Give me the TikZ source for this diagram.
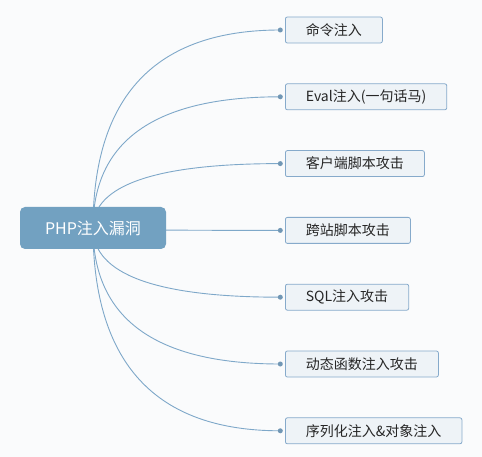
\documentclass[tikz,border=0pt]{standalone}
\usepackage{fontspec}
\setmainfont{Noto Sans CJK SC}
\usetikzlibrary{positioning,calc,backgrounds}

\definecolor{bgcol}{HTML}{FAFBFC}
\definecolor{rootcol}{HTML}{72A1C1}
\definecolor{linecol}{HTML}{7EA8C9}
\definecolor{boxcol}{HTML}{EEF3F7}
\definecolor{boxline}{HTML}{86AACB}

\begin{document}
\begin{tikzpicture}[x=1pt,y=-1pt,
            root/.style={fill=rootcol,rounded corners=5pt,text=white,minimum width=146pt,minimum height=42pt,font=\fontsize{16}{18}\selectfont},
            topic/.style={draw=boxline,fill=boxcol,rounded corners=2pt,line width=.8pt,minimum height=26pt,inner xsep=20.5pt,inner ysep=0pt,font=\fontsize{14}{16}\selectfont,text=black!85},
            dot/.style={circle,fill=linecol!90!black,inner sep=0pt,minimum size=5pt},
            link/.style={draw=linecol,line width=.9pt}
          ]
          \useasboundingbox (0,0) rectangle (482,457);

          %root
          \node[root] (root) at (93,228) {PHP注入漏洞};

          %topics
          \node[topic,anchor=west] (t1) at (285,30) {命令注入};
          \node[topic,below=40pt of t1.south west,anchor=north west] (t2) {Eval注入(一句话马)};
          \node[topic,below=40pt of t2.south west,anchor=north west] (t3) {客户端脚本攻击};
          \node[topic,below=40pt of t3.south west,anchor=north west] (t4) {跨站脚本攻击};
          \node[topic,below=40pt of t4.south west,anchor=north west] (t5) {SQL注入攻击};
          \node[topic,below=40pt of t5.south west,anchor=north west] (t6) {动态函数注入攻击};
          \node[topic,below=40pt of t6.south west,anchor=north west] (t7) {序列化注入\&对象注入};

          %dots
          \foreach \i in {1,...,7}
            \node[dot,left=2pt of t\i] (d\i) {};

          %links
          \begin{scope}[on background layer]
            \fill[bgcol] (0,0) rectangle (482,457);
            \foreach \i in {1,...,7}
              \path[link] (root.center)
                .. controls ($(root.center)!2/3!(root.center|-d\i)$) and ($(d\i.center)!2/3!(root.center|-d\i)$)
                .. (d\i.center);
          \end{scope}
      \end{tikzpicture}
\end{document}
